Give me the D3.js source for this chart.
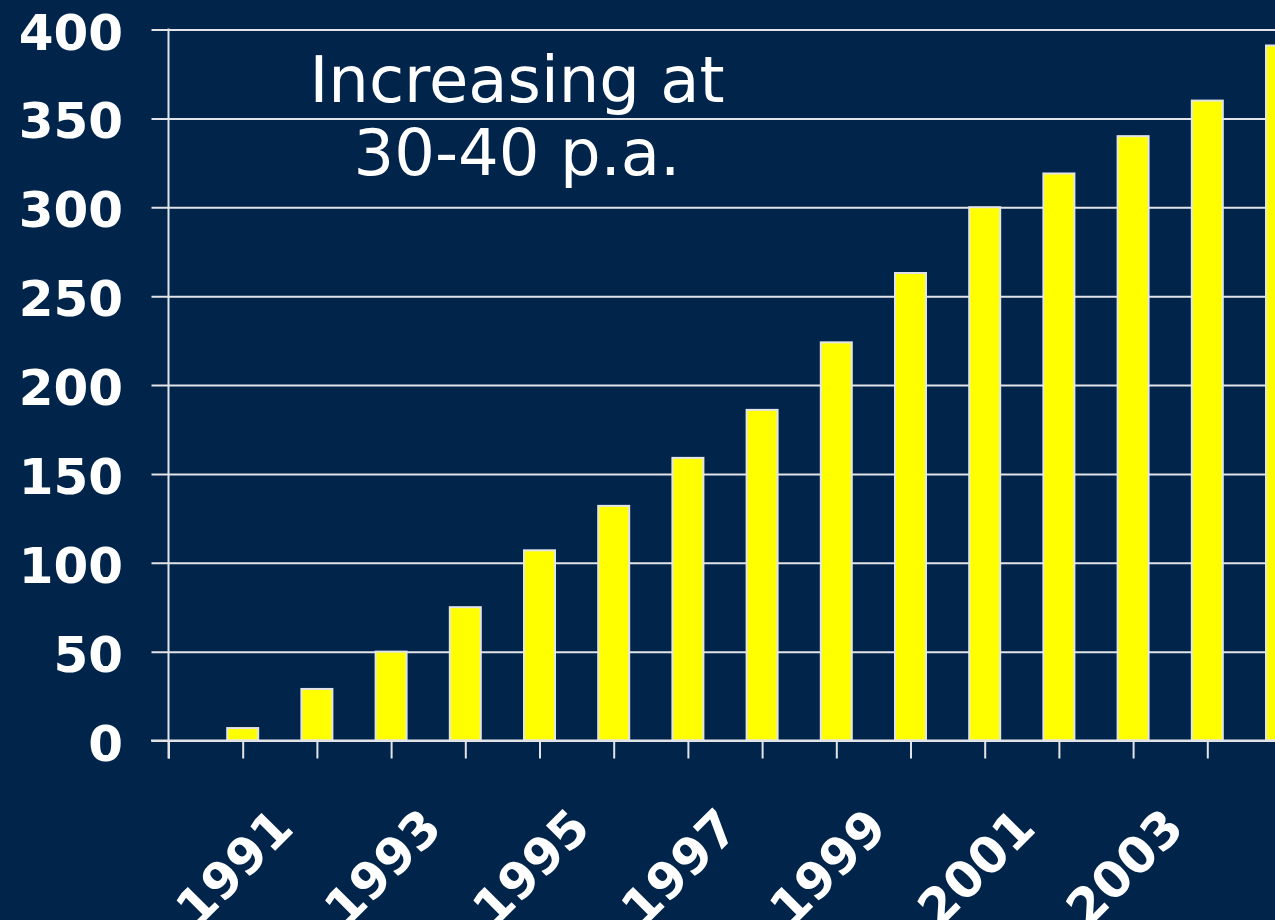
<!DOCTYPE html>
<html>
<head>
<meta charset="utf-8">
<script src="https://cdn.jsdelivr.net/npm/d3@7"></script>
<style>
  html, body { margin: 0; padding: 0; background: #00244a; overflow: hidden; }
  svg { display: block; }
  text { font-family: "DejaVu Sans", Verdana, sans-serif; fill: #ffffff; }
</style>
</head>
<body>
<svg id="chart" width="1275" height="920"></svg>
<script>
// Annual totals, one bar per year
const years  = [1991, 1992, 1993, 1994, 1995, 1996, 1997, 1998, 1999, 2000, 2001, 2002, 2003, 2004, 2005];
const counts = [7, 29, 50, 75, 107, 132, 159, 186, 224, 263, 300, 319, 340, 360, 391];
// Every other year is labelled on the category axis
const xTickLabels = ["1991", "1993", "1995", "1997", "1999", "2001", "2003"];
const yTicks = [0, 50, 100, 150, 200, 250, 300, 350, 400];
const noteLines = ["Increasing at", "30-40 p.a."];

const W = 1275, H = 920;
const svg = d3.select("#chart");
const bg = "#00244a", lineCol = "#e2e4e8";

svg.append("rect").attr("width", W).attr("height", H).attr("fill", bg);

// Category positions: the axis sits one step before the first year
const x = d3.scaleLinear().domain([1990, 1991]).range([168.5, 242.7]);
const y = d3.scaleLinear().domain([0, 400]).range([740.5, 29.5]);

// Horizontal gridlines with outward tick stubs
const yAxis = d3.axisLeft(y).tickValues(yTicks).tickSize(-(W - 168.5) - 2).tickPadding(0).tickFormat("");
const gy = svg.append("g").attr("transform", "translate(168.5,0)").call(yAxis);
gy.select(".domain").remove();
gy.selectAll(".tick line")
  .attr("x1", -17)
  .attr("stroke", lineCol).attr("stroke-width", 2);

// Y tick labels
svg.append("g").selectAll("text").data(yTicks).join("text")
  .attr("x", 123).attr("y", d => y(d)).attr("dy", 20)
  .attr("text-anchor", "end")
  .attr("font-size", 50).attr("font-weight", "bold")
  .text(d => d);

// Bars
const bw = 31;
svg.append("g").selectAll("rect").data(years).join("rect")
  .attr("x", d => x(d) - bw / 2)
  .attr("y", (d, i) => y(counts[i]))
  .attr("width", bw)
  .attr("height", (d, i) => y(0) - y(counts[i]))
  .attr("fill", "#ffff00")
  .attr("stroke", lineCol).attr("stroke-width", 2);

// Category axis: baseline plus tick marks below it
const xAxis = d3.axisBottom(x).tickValues([1990].concat(years)).tickSize(18).tickFormat("");
const gx = svg.append("g").attr("transform", `translate(0,${y(0)})`).call(xAxis);
gx.select(".domain").remove();
gx.selectAll(".tick line").attr("stroke", lineCol).attr("stroke-width", 2);
svg.append("line")
  .attr("x1", 151).attr("x2", W).attr("y1", y(0)).attr("y2", y(0))
  .attr("stroke", lineCol).attr("stroke-width", 2);
// Value axis line
svg.append("line")
  .attr("x1", x(1990)).attr("x2", x(1990)).attr("y1", y(400) - 1).attr("y2", y(0) + 18)
  .attr("stroke", lineCol).attr("stroke-width", 2);

// Rotated year labels
svg.append("g").selectAll("text").data(xTickLabels).join("text")
  .attr("transform", d => `translate(${x(+d) + 53},${y(0) + 90}) rotate(-45)`)
  .attr("text-anchor", "end")
  .attr("font-size", 50).attr("font-weight", "bold")
  .text(d => d);

// Growth note
svg.append("g").selectAll("text").data(noteLines).join("text")
  .attr("x", 517).attr("y", (d, i) => 102 + i * 73)
  .attr("text-anchor", "middle")
  .attr("font-size", 64)
  .text(d => d);
</script>
</body>
</html>
